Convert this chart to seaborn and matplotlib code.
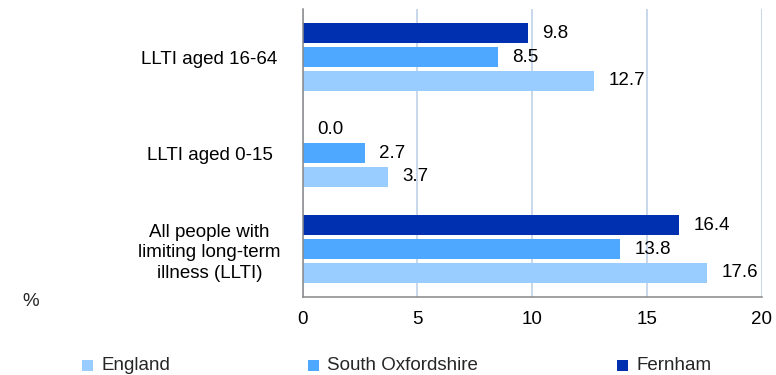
import matplotlib
matplotlib.use("Agg")
import matplotlib.pyplot as plt
from matplotlib.patches import Rectangle
import seaborn as sns
import pandas as pd

categories = ["LLTI aged 16-64", "LLTI aged 0-15",
              "All people with\nlimiting long-term\nillness (LLTI)"]
series_names = ["England", "South Oxfordshire", "Fernham"]
england = [12.7, 3.7, 17.6]
south_oxfordshire = [8.5, 2.7, 13.8]
fernham = [9.8, 0.0, 16.4]
colors = {"England": "#99CCFF", "South Oxfordshire": "#4FA8FF", "Fernham": "#0030B0"}
x_ticks = [0, 5, 10, 15, 20]

rows = []
for name, vals in zip(series_names, [england, south_oxfordshire, fernham]):
    for c, v in zip(categories, vals):
        rows.append({"category": c, "series": name, "value": v})
df = pd.DataFrame(rows)

sns.set_style("white")
plt.rcParams["font.family"] = ["Liberation Sans", "DejaVu Sans"]

FS = 13.5
W, H = 776, 375
fig = plt.figure(figsize=(W / 100, H / 100), dpi=100)
ax = fig.add_axes([302.5 / W, 1 - 297 / H, (762 - 302.5) / W, (297 - 9) / H])

hue_order = ["Fernham", "South Oxfordshire", "England"]
sns.barplot(data=df, x="value", y="category", hue="series", order=categories,
            hue_order=hue_order, palette=colors, orient="h",
            width=0.746, gap=0.17, dodge=True, ax=ax, legend=False,
            saturation=1, edgecolor="none")

for cont in ax.containers:
    ax.bar_label(cont, fmt="%.1f", padding=10.5, fontsize=FS, color="black")

ax.set_xlim(0, 20)
ax.set_ylim(2.5, -0.5)
ax.set_xticks(x_ticks)
ax.set_xticklabels([str(t) for t in x_ticks])
ax.set_xlabel("")
ax.set_ylabel("")
ax.grid(axis="x", color="#B9CDE5", linewidth=1.1)
ax.grid(axis="y", visible=False)
ax.set_axisbelow(True)
for s in ["top", "right"]:
    ax.spines[s].set_visible(False)
for s in ["left", "bottom"]:
    ax.spines[s].set_color("#888888")
    ax.spines[s].set_linewidth(1.1)
ax.tick_params(axis="x", direction="out", length=4.5, width=1.1, color="#888888",
               labelsize=FS, labelcolor="black", pad=5.5)
ax.tick_params(axis="y", length=0, labelsize=FS, labelcolor="black", pad=67)
for lbl in ax.get_yticklabels():
    lbl.set_horizontalalignment("center")
    lbl.set_multialignment("center")
    lbl.set_linespacing(1.3)

fig.text(22 / W, 1 - 302 / H, "%", fontsize=FS, va="center", ha="left")

legend_pos = {"England": (82, 101), "South Oxfordshire": (308, 327), "Fernham": (617, 637)}
for name in series_names:
    mx, tx = legend_pos[name]
    fig.add_artist(Rectangle((mx / W, 1 - 371 / H), 11 / W, 11 / H,
                             transform=fig.transFigure, facecolor=colors[name],
                             edgecolor="none"))
    fig.text(tx / W, 1 - 365 / H, name, fontsize=FS, va="center", ha="left")

fig.savefig("out.png", dpi=100)
